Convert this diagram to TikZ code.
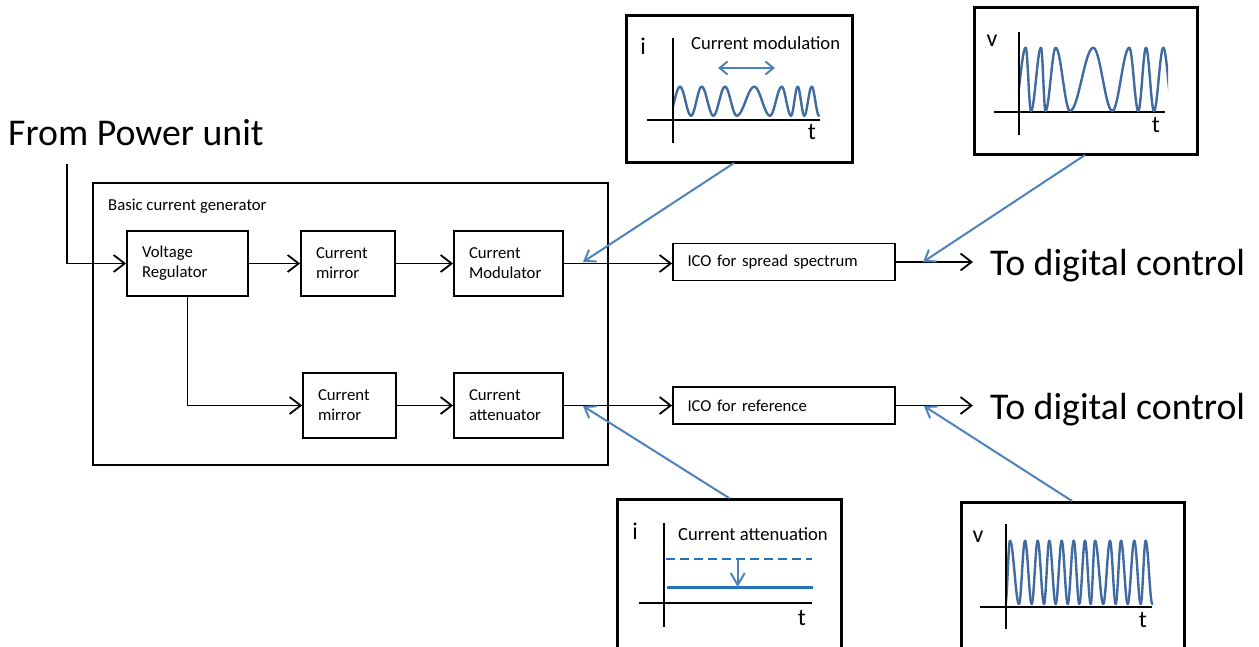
\documentclass[tikz,border=0pt]{standalone}
\usepackage{fontspec}
\setmainfont{Carlito}
\usetikzlibrary{arrows.meta}

\definecolor{linkblue}{RGB}{79,129,189}
\definecolor{waveblue}{RGB}{65,106,160}
\definecolor{levelblue}{RGB}{36,114,190}

\tikzset{
  blk/.style={draw, line width=1.8pt, minimum height=65pt, inner xsep=0pt,
              align=left, font=\fontsize{16.7}{20}\selectfont},
  arr/.style={line width=1.8pt, -{Straight Barb[length=11pt,width=17pt]}},
  link/.style={draw=linkblue, line width=2pt, -{Straight Barb[length=10pt,width=14pt]}},
  inset/.style={draw, line width=3pt},
  axis/.style={line width=1.8pt},
  wave/.style={draw=waveblue, line width=2.4pt, line cap=round},
  axlabel/.style={inner sep=0pt, font=\fontsize{24}{28}\selectfont},
  smalltxt/.style={inner sep=0pt, font=\fontsize{16.7}{20}\selectfont},
  insettxt/.style={inner sep=0pt, font=\fontsize{18.6}{22}\selectfont},
  bigtxt/.style={inner sep=0pt, font=\fontsize{37.8}{42}\selectfont},
}

% half-cosine segments between successive extrema of a waveform
\newcommand{\wavepath}[3]{%
  \foreach \xx/\yy [remember=\xx as \px (initially #1), remember=\yy as \py (initially #2)] in {#3}{%
    \draw[wave] plot[variable=\t, domain=0:1, samples=14]
      ({\px+(\xx-\px)*\t},{(\py+\yy)/2+(\py-\yy)/2*cos(180*\t)});
  }%
}

\begin{document}
\begin{tikzpicture}[x=1pt,y=-1pt]
\useasboundingbox (0,0) rectangle (1259,646);

% ---------- basic current generator ----------
\draw[line width=1.8pt] (93,183) rectangle (608,465);
\node[smalltxt, anchor=base west] (bcg) at (108,210) {Basic current generator};

\node[blk, minimum width=121pt, text width=91pt] (vr)  at (187.5,263.5) {Voltage\\Regulator};
\node[blk, minimum width=94pt,  text width=64pt] (cm1) at (348,263.5)   {Current\\mirror};
\node[blk, minimum width=109pt, text width=79pt] (mod) at (508.5,263.5) {Current\\Modulator};
\node[blk, minimum width=93pt,  text width=63pt] (cm2) at (349.5,405.5) {Current\\mirror};
\node[blk, minimum width=109pt, text width=79pt] (att) at (508.5,405.5) {Current\\attenuator};

\node[blk, minimum width=222pt, minimum height=37pt, text width=193pt] (ico1) at (784,262) {ICO for spread spectrum};
\node[blk, minimum width=222pt, minimum height=37pt, text width=193pt] (ico2) at (784,405.5) {ICO for reference};

% ---------- input and outputs ----------
\node[bigtxt, anchor=base west] (pwr) at (8,145) {From Power unit};
\coordinate (pin) at (67,164);
\draw[arr] (pin) |- (vr.west);

\draw[arr] (vr.east) -- (cm1.west);
\draw[arr] (cm1.east) -- (mod.west);
\draw[arr] (vr.south) |- (cm2.west);
\draw[arr] (cm2.east) -- (att.west);
\draw[arr] (mod.east) -- (mod.east -| ico1.west);
\draw[arr] (att.east) -- (ico2.west);

\coordinate (o1) at (973,262);
\coordinate (o2) at (973,405.5);
\draw[arr] (ico1.east) -- (o1);
\draw[arr] (ico2.east) -- (o2);
\node[bigtxt, anchor=base west] (dc1) at (990,275) {To digital control};
\node[bigtxt, anchor=base west] (dc2) at (990,419) {To digital control};

% ---------- inset: current modulation ----------
\draw[inset] (626,15) rectangle (852,162);
\draw[axis] (673,38) -- (673,143);
\draw[axis] (647,120) -- (820,120);
\node[axlabel] (i1) at (643,46) {i};
\node[axlabel] (t1) at (812,132) {t};
\node[insettxt, anchor=base west] (cmodtxt) at (691,49) {Current modulation};
\coordinate (dl) at (718,68);
\coordinate (dr) at (775,68);
\draw[draw=linkblue, line width=2pt, {Straight Barb[length=8pt,width=13pt]}-{Straight Barb[length=8pt,width=13pt]}] (dl) -- (dr);
\begin{scope}
  \clip (674,60) rectangle (830,125);
  \wavepath{668.5}{115.7}{680/86.7, 691/115.7, 701.7/86.7, 713.3/115.7, 725/86.7, 736.7/115.7,
    754.3/86.7, 770/115.7, 781.7/86.7, 791/115.7, 797.7/86.7, 804.3/115.7, 811.7/86.7, 819/115.7}
\end{scope}

% ---------- inset: spread spectrum output ----------
\draw[inset] (974,7) rectangle (1197,154);
\draw[axis] (1019,32) -- (1019,135);
\draw[axis] (994,112) -- (1165,112);
\node[axlabel] (v1) at (992,41) {v};
\node[axlabel] (t2) at (1156,125) {t};
\begin{scope}
  \clip (1020,40) rectangle (1168,115);
  \wavepath{1014.3}{111}{1025.7/47.7, 1031/111, 1041/47.7, 1045.5/111, 1055.7/47.7, 1070/111,
    1093.3/47.7, 1112.3/111, 1129.3/47.7, 1138.3/111, 1146/47.7, 1154/111, 1163.3/47.7, 1173/111}
\end{scope}

% ---------- inset: current attenuation ----------
\draw[inset] (617,499) rectangle (841,660);
\draw[axis] (664.3,523) -- (664.3,627);
\draw[axis] (639,603.3) -- (812,603.3);
\node[axlabel] (i2) at (635,531) {i};
\node[axlabel] (t3) at (802,618) {t};
\node[insettxt, anchor=base west] (cattxt) at (678,540) {Current attenuation};
\draw[draw=levelblue, line width=2.5pt, dash pattern=on 9pt off 5pt] (666,559) -- (812,559);
\draw[draw=levelblue, line width=2.5pt] (667,587.7) -- (813,587.7);
\coordinate (ah) at (737.7,559);
\coordinate (al) at (737.7,587);
\draw[draw=linkblue, line width=2pt, -{Straight Barb[length=12pt,width=14pt]}] (ah) -- (al);

% ---------- inset: reference output ----------
\draw[inset] (961,502) rectangle (1184,660);
\draw[axis] (1005.7,524) -- (1005.7,629);
\draw[axis] (980,606.7) -- (1152,606.7);
\node[axlabel] (v2) at (978,537) {v};
\node[axlabel] (t4) at (1143,620) {t};
\begin{scope}
  \clip (1007,530) rectangle (1160,610);
  \wavepath{1005.4}{604}{1010/540.7, 1019/604, 1025/540.7, 1031.7/604, 1037.7/540.7, 1044/604,
    1049.3/540.7, 1055.7/604, 1061.7/540.7, 1067.7/604, 1073.7/540.7, 1079.3/604,
    1085/540.7, 1090.7/604, 1095/540.7, 1103.3/604, 1110/540.7, 1115.7/604,
    1121/540.7, 1127.7/604, 1134.3/540.7, 1140.7/604, 1145.7/540.7, 1152.3/604}
\end{scope}

% ---------- pointers from the insets to the signal lines ----------
\coordinate (p1) at (734,163);
\coordinate (q1) at (583,262);
\coordinate (p2) at (1085,155);
\coordinate (q2) at (923,262);
\coordinate (p3) at (729,498);
\coordinate (q3) at (583,406);
\coordinate (p4) at (1072,501);
\coordinate (q4) at (924,406);
\draw[link] (p1) -- (q1);
\draw[link] (p2) -- (q2);
\draw[link] (p3) -- (q3);
\draw[link] (p4) -- (q4);
\end{tikzpicture}
\end{document}
